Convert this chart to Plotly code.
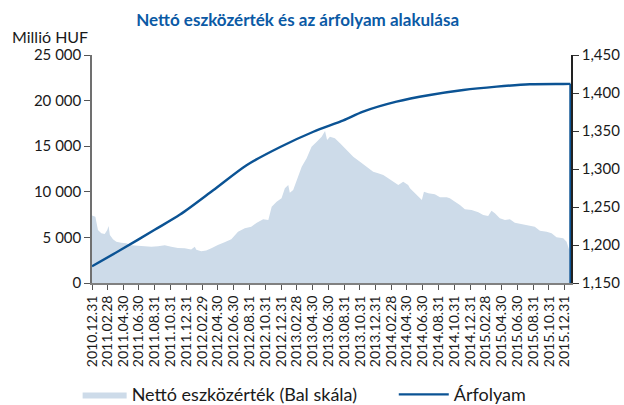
import plotly.graph_objects as go

# Net asset value (left axis, million HUF)
nav_dates = [
    "2010-12-31", "2011-01-13", "2011-01-23", "2011-02-05", "2011-02-18", "2011-02-28",
    "2011-03-05", "2011-03-10", "2011-03-22", "2011-04-04", "2011-04-23", "2011-05-12",
    "2011-06-01", "2011-06-27", "2011-07-22", "2011-08-17", "2011-09-12", "2011-10-08",
    "2011-11-02", "2011-11-28", "2011-12-24", "2012-01-18", "2012-02-01", "2012-02-07",
    "2012-02-26", "2012-03-16", "2012-04-05", "2012-04-30", "2012-05-26", "2012-06-21",
    "2012-07-17", "2012-08-12", "2012-09-06", "2012-09-26", "2012-10-22", "2012-11-11",
    "2012-11-24", "2012-12-13", "2013-01-01", "2013-01-14", "2013-01-27", "2013-02-02",
    "2013-02-15", "2013-02-28", "2013-03-20", "2013-04-08", "2013-04-27", "2013-05-17",
    "2013-06-05", "2013-06-18", "2013-06-26", "2013-07-07", "2013-07-26", "2013-08-15",
    "2013-09-09", "2013-10-05", "2013-10-31", "2013-11-26", "2013-12-21", "2014-01-09",
    "2014-01-29", "2014-02-17", "2014-03-08", "2014-03-28", "2014-04-16", "2014-05-05",
    "2014-05-12", "2014-05-25", "2014-05-31", "2014-06-13", "2014-06-20", "2014-06-27",
    "2014-07-05", "2014-07-22", "2014-08-16", "2014-09-05", "2014-10-01", "2014-10-13",
    "2014-11-02", "2014-11-21", "2014-12-10", "2015-01-05", "2015-01-31", "2015-02-19",
    "2015-03-10", "2015-03-23", "2015-04-05", "2015-04-24", "2015-05-14", "2015-06-02",
    "2015-06-21", "2015-07-17", "2015-08-12", "2015-09-06", "2015-09-26", "2015-10-22",
    "2015-11-10", "2015-11-29", "2015-12-25", "2016-01-07", "2016-01-17",
]
nav_values = [
    7400, 7270, 5810, 5450, 5370, 5800,
    6250, 5260, 4790, 4530, 4420, 4350,
    4130, 4060, 3980, 3980, 4020, 4130,
    3980, 3840, 3800, 3660, 3980, 3650,
    3470, 3550, 3800, 4170, 4460, 4790,
    5630, 5990, 6180, 6580, 6980, 6900,
    8370, 8920, 9280, 10380, 10750, 9900,
    10200, 11290, 12760, 13670, 14950, 15500,
    16040, 16670, 15680, 16040, 15860, 15320,
    14580, 13850, 13300, 12760, 12200, 12030,
    11840, 11480, 11110, 10750, 11110, 10750,
    10380, 10010, 9830, 9460, 9280, 9100,
    10010, 9830, 9720, 9390, 9390, 9280,
    8920, 8550, 8080, 8000, 7750, 7460,
    7350, 7930, 7640, 7090, 6900, 6980,
    6620, 6470, 6360, 6180, 5740, 5630,
    5450, 5010, 4900, 4530, 3620,
]

# Price (right axis); the series ends with a drop to zero
price_dates = [
    "2010-12-31", "2011-04-23", "2011-08-30", "2011-12-06",
    "2012-04-12", "2012-08-19", "2012-12-27", "2013-05-04", "2013-08-28",
    "2013-11-12", "2014-03-21", "2014-07-28", "2014-12-04", "2015-04-12", "2015-08-18",
    "2015-12-25", "2016-01-22",
]
price_values = [
    1172, 1194, 1220, 1240,
    1272, 1305, 1329, 1349, 1364,
    1375.5, 1388.6, 1397.4, 1404, 1408.4, 1411.5,
    1411.9, 1412,
]
price_end_date = "2016-01-22"
price_end_value = 0

x_tick_dates = [
    "2010-12-31", "2011-02-28", "2011-04-30", "2011-06-30", "2011-08-31", "2011-10-31",
    "2011-12-31", "2012-02-29", "2012-04-30", "2012-06-30", "2012-08-31", "2012-10-31",
    "2012-12-31", "2013-02-28", "2013-04-30", "2013-06-30", "2013-08-31", "2013-10-31",
    "2013-12-31", "2014-02-28", "2014-04-30", "2014-06-30", "2014-08-31", "2014-10-31",
    "2014-12-31", "2015-02-28", "2015-04-30", "2015-06-30", "2015-08-31", "2015-10-31",
    "2015-12-31",
]
x_tick_labels = [d.replace("-", ".") for d in x_tick_dates]

left_ticks = [0, 5000, 10000, 15000, 20000, 25000]
left_labels = ["0", "5 000", "10 000", "15 000", "20 000", "25 000"]
right_ticks = [1150, 1200, 1250, 1300, 1350, 1400, 1450]
right_labels = ["1,150", "1,200", "1,250", "1,300", "1,350", "1,400", "1,450"]

FONT = "Lato, Roboto, sans-serif"
LINE_COLOR = "#0b5394"
AREA_COLOR = "#cddbe9"

fig = go.Figure()
fig.add_trace(go.Scatter(
    x=nav_dates, y=nav_values, name="Nettó eszközérték (Bal skála)",
    mode="lines", line=dict(width=0, color=AREA_COLOR),
    fill="tozeroy", fillcolor=AREA_COLOR, yaxis="y", legend="legend",
))
fig.add_trace(go.Scatter(
    x=price_dates, y=price_values, name="Árfolyam",
    mode="lines", line=dict(width=2.4, color=LINE_COLOR, shape="spline", smoothing=0.8),
    yaxis="y2", legend="legend2",
))
fig.add_trace(go.Scatter(
    x=[price_dates[-1], price_end_date], y=[price_values[-1], price_end_value],
    mode="lines", line=dict(width=2.4, color=LINE_COLOR),
    yaxis="y2", showlegend=False, hoverinfo="skip",
))

fig.update_layout(
    width=624, height=405,
    margin=dict(l=92, r=53, t=55, b=122, autoexpand=False),
    paper_bgcolor="white", plot_bgcolor="white",
    font=dict(family=FONT, size=15, color="#1a1a1a"),
    title=dict(
        text="Nettó eszközérték és az árfolyam alakulása",
        x=0.477, xanchor="center", y=0.950, yanchor="middle",
        font=dict(family=FONT, size=17, color="#0b5aa5", weight="bold"),
    ),
    xaxis=dict(
        type="date", range=["2010-12-31", "2016-01-24"],
        tickvals=x_tick_dates, ticktext=x_tick_labels, tickangle=-90,
        ticks="outside", ticklen=5, tickcolor="#555555",
        showline=True, linecolor="#808080", linewidth=2,
        showgrid=False, zeroline=False,
        tickfont=dict(size=14),
    ),
    yaxis=dict(
        range=[0, 25000], tickvals=left_ticks, ticktext=left_labels,
        ticks="outside", ticklen=6, tickcolor="#555555",
        showline=True, linecolor="#707070", linewidth=1.5,
        showgrid=False, zeroline=False, tickfont=dict(size=15),
    ),
    yaxis2=dict(
        range=[1150, 1450], tickvals=right_ticks, ticktext=right_labels,
        overlaying="y", side="right", anchor="x",
        ticks="outside", ticklen=6, tickcolor="#333333",
        showline=True, linecolor="#222222", linewidth=1.5,
        showgrid=False, zeroline=False, tickfont=dict(size=15),
    ),
    legend=dict(
        orientation="h", x=-0.03, xanchor="left", y=-0.49, yanchor="middle",
        font=dict(size=18), itemwidth=44, bgcolor="rgba(0,0,0,0)",
    ),
    legend2=dict(
        orientation="h", x=0.63, xanchor="left", y=-0.49, yanchor="middle",
        font=dict(size=18), itemwidth=50, bgcolor="rgba(0,0,0,0)",
    ),
    showlegend=True,
    annotations=[dict(
        text="Millió HUF", xref="paper", yref="paper",
        x=-0.088, y=1.083, xanchor="center", yanchor="middle",
        showarrow=False, font=dict(size=16, color="#1a1a1a"),
    )],
)

fig.write_html(
    "out.html",
    config={"displayModeBar": False},
    post_script="document.body.style.margin='0';document.body.style.padding='0';",
)
